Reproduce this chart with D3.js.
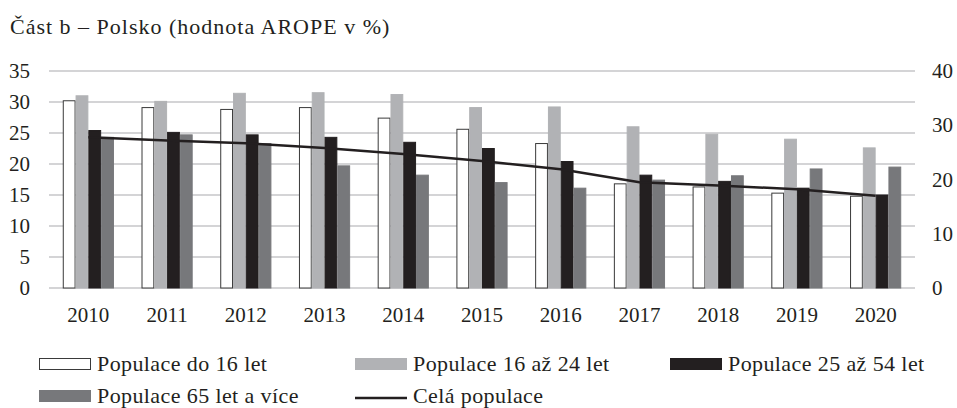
<!DOCTYPE html>
<html>
<head>
<meta charset="utf-8">
<script src="https://cdn.jsdelivr.net/npm/d3@7"></script>
<style>
  body { margin: 0; background: #fff; }
  svg text { font-family: "Liberation Serif", "DejaVu Serif", serif; fill: #231f20; }
</style>
</head>
<body>
<div id="chart"></div>
<script>
// data
const years = ["2010","2011","2012","2013","2014","2015","2016","2017","2018","2019","2020"];
const seriesNames = ["Populace do 16 let", "Populace 16 až 24 let", "Populace 25 až 54 let", "Populace 65 let a více"];
const under16 = [30.2, 29.1, 28.8, 29.1, 27.4, 25.6, 23.3, 16.8, 16.3, 15.3, 14.8];
const age16to24 = [31.0, 30.1, 31.4, 31.5, 31.2, 29.1, 29.2, 26.0, 24.8, 24.0, 22.6];
const age25to54 = [25.4, 25.1, 24.7, 24.3, 23.5, 22.5, 20.4, 18.2, 17.2, 16.1, 15.0];
const age65plus = [24.3, 24.7, 23.3, 19.7, 18.2, 17.0, 16.1, 17.4, 18.1, 19.2, 19.5];
const totalName = "Celá populace";
const total = [27.8, 27.2, 26.7, 25.8, 24.7, 23.4, 21.9, 19.5, 18.9, 18.2, 17.0];
const leftTicks = [0, 5, 10, 15, 20, 25, 30, 35];
const rightTicks = [0, 10, 20, 30, 40];

const barSeries = [under16, age16to24, age25to54, age65plus];
const fills = ["#ffffff", "#b1b2b5", "#231f20", "#77787b"];
const strokes = ["#3a3a3a", "#b1b2b5", "#231f20", "#77787b"];

const width = 957, height = 408;
const margin = { top: 71, bottom: 120, left: 49, right: 42 };

const svg = d3.select('#chart').append('svg')
  .attr('width', width)
  .attr('height', height);

// title
svg.append('text')
  .attr('x', 10).attr('y', 34)
  .attr('font-size', '22px')
  .attr('letter-spacing', '1px')
  .text('Část b – Polsko (hodnota AROPE v %)');

const x = d3.scaleBand()
  .domain(years)
  .range([margin.left, width - margin.right])
  .paddingInner(0.35)
  .paddingOuter(0.175);

const xs = d3.scaleBand()
  .domain(d3.range(barSeries.length))
  .range([0, x.bandwidth()]);

const y = d3.scaleLinear()
  .domain([0, 35])
  .range([height - margin.bottom, margin.top]);

const y2 = d3.scaleLinear()
  .domain([0, 40])
  .range([height - margin.bottom, margin.top]);

// gridlines
svg.append('g')
  .selectAll('line')
  .data(leftTicks)
  .join('line')
    .attr('x1', margin.left)
    .attr('x2', width - margin.right)
    .attr('y1', d => y(d))
    .attr('y2', d => y(d))
    .attr('stroke', '#c6c6c8')
    .attr('stroke-width', 1.5);

// bars
barSeries.forEach((vals, s) => {
  svg.append('g')
    .selectAll('rect')
    .data(vals)
    .join('rect')
      .attr('x', (d, i) => x(years[i]) + xs(s) + 0.5)
      .attr('y', d => y(d))
      .attr('width', xs.bandwidth() - 1)
      .attr('height', d => y(0) - y(d))
      .attr('fill', fills[s])
      .attr('stroke', strokes[s])
      .attr('stroke-width', 1);
});

// total line on right axis
const line = d3.line()
  .x((d, i) => x(years[i]) + x.bandwidth() / 2)
  .y(d => y2(d));

svg.append('path')
  .datum(total)
  .attr('d', line)
  .attr('fill', 'none')
  .attr('stroke', '#231f20')
  .attr('stroke-width', 2.5);

// left axis
function yAxis(g) {
  g.attr('transform', `translate(${margin.left - 19}, 0)`)
    .call(d3.axisLeft(y).tickValues(leftTicks).tickSize(0).tickPadding(0))
    .attr('font-size', '21px')
    .attr('font-family', null);
  g.select('.domain').remove();
}

// right axis
function y2Axis(g) {
  g.attr('transform', `translate(${width - margin.right + 17}, 0)`)
    .call(d3.axisRight(y2).tickValues(rightTicks).tickSize(0).tickPadding(0))
    .attr('font-size', '21px')
    .attr('font-family', null);
  g.select('.domain').remove();
}

// bottom axis
function xAxis(g) {
  g.attr('transform', `translate(0, ${height - margin.bottom})`)
    .call(d3.axisBottom(x).tickSize(0).tickPadding(19))
    .attr('font-size', '21px')
    .attr('font-family', null);
  g.select('.domain').remove();
  g.selectAll('text').attr('dy', '0.71em');
}

svg.append('g').call(xAxis);
svg.append('g').call(yAxis);
svg.append('g').call(y2Axis);

// legend
const legendItems = [
  { name: seriesNames[0], type: 'rect', fill: fills[0], stroke: '#3a3a3a', col: 0, row: 0 },
  { name: seriesNames[1], type: 'rect', fill: fills[1], stroke: fills[1], col: 1, row: 0 },
  { name: seriesNames[2], type: 'rect', fill: fills[2], stroke: fills[2], col: 2, row: 0 },
  { name: seriesNames[3], type: 'rect', fill: fills[3], stroke: fills[3], col: 0, row: 1 },
  { name: totalName, type: 'line', col: 1, row: 1 }
];
const colX = [39, 355, 670];
const rowY = [364, 396];

const legend = svg.append('g')
  .selectAll('g')
  .data(legendItems)
  .join('g')
    .attr('transform', d => `translate(${colX[d.col]}, ${rowY[d.row]})`);

legend.filter(d => d.type === 'rect')
  .append('rect')
    .attr('x', 0.5).attr('y', -5.5)
    .attr('width', 51).attr('height', 11)
    .attr('fill', d => d.fill)
    .attr('stroke', d => d.stroke);

legend.filter(d => d.type === 'line')
  .append('line')
    .attr('x1', 0).attr('x2', 52)
    .attr('y1', 2).attr('y2', 2)
    .attr('stroke', '#231f20')
    .attr('stroke-width', 2.5);

legend.append('text')
  .attr('x', 58)
  .attr('y', 7)
  .attr('font-size', '22px')
  .attr('letter-spacing', '0.4px')
  .text(d => d.name);
</script>
</body>
</html>
